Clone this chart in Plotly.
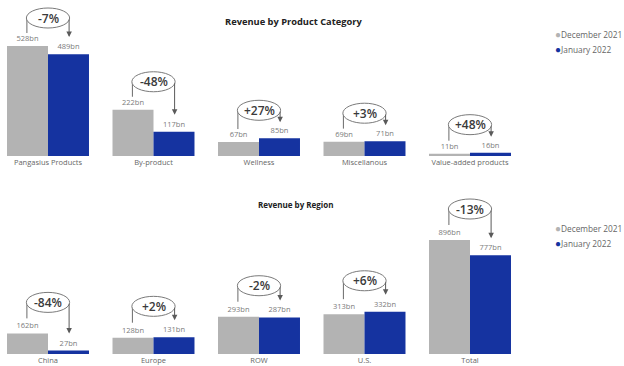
import plotly.graph_objects as go

# ---- data ----
prod_categories = ["Pangasius Products", "By-product", "Wellness", "Miscellanous", "Value-added products"]
prod_dec2021 = [528, 222, 67, 69, 11]
prod_jan2022 = [489, 117, 85, 71, 16]
prod_change = ["-7%", "-48%", "+27%", "+3%", "+48%"]

reg_categories = ["China", "Europe", "ROW", "U.S.", "Total"]
reg_dec2021 = [162, 128, 293, 313, 896]
reg_jan2022 = [27, 131, 287, 332, 777]
reg_change = ["-84%", "+2%", "-2%", "+6%", "-13%"]

series_names = ["December 2021", "January 2022"]
titles = ["Revenue by Product Category", "Revenue by Region"]

# ---- style ----
GREY = "#b3b3b3"
BLUE = "#1533a0"
FONT = "Segoe UI, Open Sans, sans-serif"
W, H = 624, 366
CAT_PX = 105.5
X0 = -48 / CAT_PX
X_RANGE = [X0, X0 + W / CAT_PX]
HALF = 0.2  # half distance between bar centres (category units)

# panel geometry (pixels): baseline, top of domain, px per unit
panels = [
    dict(base=156, top=0, ppu=110 / 528, xa="x", ya="y",
         cats=prod_categories, a=prod_dec2021, b=prod_jan2022, chg=prod_change,
         title=titles[0], title_y=22, title_x=293, title_size=9.3,
         ell_off=28, left_gap=13, tip_gap=17, leg_y=34),
    dict(base=354, top=176, ppu=114 / 896, xa="x2", ya="y2",
         cats=reg_categories, a=reg_dec2021, b=reg_jan2022, chg=reg_change,
         title=titles[1], title_y=205, title_x=295, title_size=8,
         ell_off=31, left_gap=15, tip_gap=17, leg_y=228),
]

fig = go.Figure()
shapes, annotations = [], []

for k, p in enumerate(panels):
    idx = list(range(len(p["cats"])))
    for name, vals, col in [(series_names[0], p["a"], GREY), (series_names[1], p["b"], BLUE)]:
        fig.add_trace(go.Bar(
            x=idx, y=vals, name=name, marker=dict(color=col, line=dict(width=0)),
            text=[f"{v}bn" for v in vals], textposition="outside",
            textfont=dict(size=7.5, color="#7a7a7a", family=FONT),
            cliponaxis=False, showlegend=False, hoverinfo="skip",
            xaxis=p["xa"], yaxis=p["ya"]))
    upp = 1 / p["ppu"]  # units per pixel
    for i in idx:
        a, b = p["a"][i], p["b"][i]
        cy = max(a, b) + p["ell_off"] * upp
        # left connector
        shapes.append(dict(type="line", xref=p["xa"], yref=p["ya"],
                           x0=i - HALF, x1=i - HALF, y0=a + p["left_gap"] * upp, y1=cy,
                           line=dict(color="#6a6a6a", width=1)))
        # ellipse
        shapes.append(dict(type="circle", xref=p["xa"], yref=p["ya"],
                           x0=i - HALF - 0.005, x1=i + HALF + 0.005,
                           ysizemode="pixel", yanchor=cy, y0=-10, y1=10,
                           line=dict(color="#7a7a7a", width=1), fillcolor="white"))
        tip = min(b + p["tip_gap"] * upp, cy - 12 * upp)
        annotations.append(dict(xref=p["xa"], yref=p["ya"], axref=p["xa"], ayref=p["ya"],
                                x=i + HALF, y=tip, ax=i + HALF, ay=cy, text="",
                                showarrow=True, arrowhead=2, arrowsize=1.1, arrowwidth=1,
                                arrowcolor="#5a5a5a", standoff=0, startstandoff=0))
        annotations.append(dict(xref=p["xa"], yref=p["ya"], x=i, y=cy, text=p["chg"][i],
                                showarrow=False,
                                font=dict(size=12, color="#3a3a3a", family=FONT, weight=600)))
    # title
    annotations.append(dict(xref="paper", yref="paper", x=p["title_x"] / W, y=1 - p["title_y"] / H,
                            text=f"<b>{p['title']}</b>", showarrow=False,
                            xanchor="center", yanchor="middle",
                            font=dict(size=p["title_size"], color="#222222", family=FONT)))
    # legend
    for j, (name, col) in enumerate([(series_names[0], GREY), (series_names[1], BLUE)]):
        annotations.append(dict(xref="paper", yref="paper", x=553 / W,
                                y=1 - (p["leg_y"] + 15 * j) / H,
                                text=f'<span style="color:{col};font-size:10px">●</span>{name}',
                                showarrow=False, xanchor="left", yanchor="middle",
                                font=dict(size=8.3, color="#666666", family=FONT)))

def yax(p):
    dom = [1 - p["base"] / H, 1 - p["top"] / H]
    rng = [0, (p["base"] - p["top"]) / p["ppu"]]
    return dict(domain=dom, range=rng, visible=False, fixedrange=True)

def xax(p, anchor):
    return dict(domain=[0, 1], range=X_RANGE, anchor=anchor, tickmode="array",
                tickvals=list(range(len(p["cats"]))), ticktext=p["cats"],
                showgrid=False, zeroline=False, showline=False, ticks="",
                tickfont=dict(size=7.5, color="#666666", family=FONT), fixedrange=True)

fig.update_layout(
    width=W, height=H, margin=dict(l=0, r=0, t=0, b=0),
    paper_bgcolor="white", plot_bgcolor="white",
    barmode="group", bargap=0.223, bargroupgap=0,
    xaxis=xax(panels[0], "y"), yaxis=yax(panels[0]),
    xaxis2=xax(panels[1], "y2"), yaxis2=yax(panels[1]),
    shapes=shapes, annotations=annotations, showlegend=False,
)

fig.write_html("out.html", config={"displayModeBar": False},
               post_script="document.body.style.margin='0';document.body.style.overflow='hidden';")
